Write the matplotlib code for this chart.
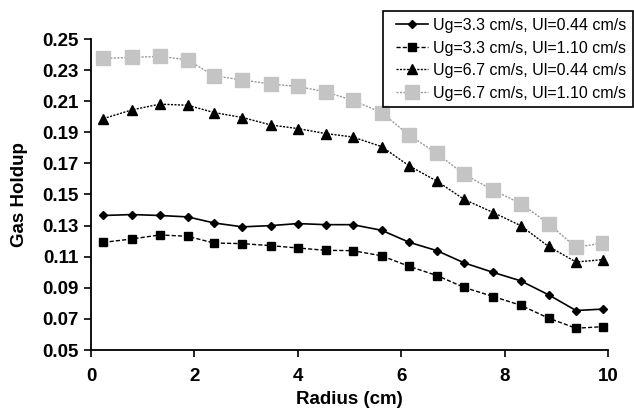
import matplotlib
matplotlib.use("Agg")
import matplotlib.pyplot as plt
from matplotlib.patches import Rectangle

radius = [0.24, 0.79, 1.33, 1.87, 2.38, 2.93, 3.48, 4.00, 4.54, 5.06,
          5.62, 6.16, 6.69, 7.22, 7.78, 8.31, 8.85, 9.38, 9.90]

ug33_ul044 = [0.1365, 0.1371, 0.1365, 0.1356, 0.1317, 0.1292, 0.1300, 0.1313, 0.1306, 0.1306,
              0.1270, 0.1192, 0.1139, 0.1060, 0.0999, 0.0945, 0.0855, 0.0754, 0.0763]
ug33_ul110 = [0.1192, 0.1214, 0.1240, 0.1231, 0.1188, 0.1184, 0.1171, 0.1156, 0.1141, 0.1139,
              0.1106, 0.1037, 0.0979, 0.0902, 0.0844, 0.0788, 0.0705, 0.0640, 0.0650]
ug67_ul044 = [0.1988, 0.2044, 0.2081, 0.2074, 0.2027, 0.1995, 0.1947, 0.1924, 0.1892, 0.1870,
              0.1808, 0.1683, 0.1586, 0.1468, 0.1384, 0.1300, 0.1166, 0.1066, 0.1081]
ug67_ul110 = [0.2375, 0.2382, 0.2388, 0.2366, 0.2263, 0.2237, 0.2210, 0.2195, 0.2160, 0.2106,
              0.2027, 0.1880, 0.1765, 0.1629, 0.1528, 0.1442, 0.1313, 0.1160, 0.1188]

labels = ["Ug=3.3 cm/s, Ul=0.44 cm/s", "Ug=3.3 cm/s, Ul=1.10 cm/s",
          "Ug=6.7 cm/s, Ul=0.44 cm/s", "Ug=6.7 cm/s, Ul=1.10 cm/s"]
xticks = [0, 2, 4, 6, 8, 10]
yticks = [0.05, 0.07, 0.09, 0.11, 0.13, 0.15, 0.17, 0.19, 0.21, 0.23, 0.25]

plt.rcParams['font.family'] = ['Liberation Sans', 'DejaVu Sans']

W, H = 634, 415
fig = plt.figure(figsize=(W / 100, H / 100), dpi=100)
ax = fig.add_axes([91 / W, 1 - 350 / H, (608 - 91) / W, (350 - 39) / H])

ax.plot(radius, ug33_ul044, color='black', lw=1.2, ls='-', marker='D', ms=4.5,
        label=labels[0])
ax.plot(radius, ug33_ul110, color='black', lw=1.0, ls=(0, (3, 1.5)), marker='s', ms=6,
        label=labels[1])
ax.plot(radius, ug67_ul044, color='black', lw=1.0, ls=(0, (1.5, 1)), marker='^', ms=6.5,
        label=labels[2])
ax.plot(radius, ug67_ul110, color='#9a9a9a', lw=1.0, ls=(0, (1.5, 1)), marker='s', ms=10,
        mfc='#c4c4c4', mec='#c4c4c4', label=labels[3])

ax.set_xlim(0, 10)
ax.set_ylim(0.05, 0.25)
ax.set_xticks(xticks)
ax.set_yticks(yticks)
ax.set_xticklabels([str(t) for t in xticks], fontsize=13.5, fontweight='bold')
ax.set_yticklabels([f"{t:.2f}" for t in yticks], fontsize=13.5, fontweight='bold')
ax.tick_params(axis='both', direction='out', length=5, width=1.2, colors='black')
ax.tick_params(axis='x', pad=8)
ax.tick_params(axis='y', pad=4)
for s in ['top', 'right']:
    ax.spines[s].set_visible(False)
for s in ['left', 'bottom']:
    ax.spines[s].set_linewidth(1.3)

ax.set_xlabel("Radius (cm)", fontsize=13.5, fontweight='bold', labelpad=4)
ax.set_ylabel("Gas Holdup", fontsize=13.5, fontweight='bold', labelpad=10)

leg = fig.legend(loc='upper right', bbox_to_anchor=(626 / W, 1 - 18 / H),
                 bbox_transform=fig.transFigure, fontsize=11.5, frameon=False,
                 handlelength=2.0, handletextpad=0.3, borderpad=0,
                 labelspacing=0.47, borderaxespad=0)

frame = Rectangle((383 / W, 1 - 107 / H), (633 - 383) / W, (107 - 11) / H,
                  transform=fig.transFigure, fill=False, edgecolor='black',
                  linewidth=1.2, zorder=5)
fig.add_artist(frame)

fig.savefig("out.png", dpi=100)
